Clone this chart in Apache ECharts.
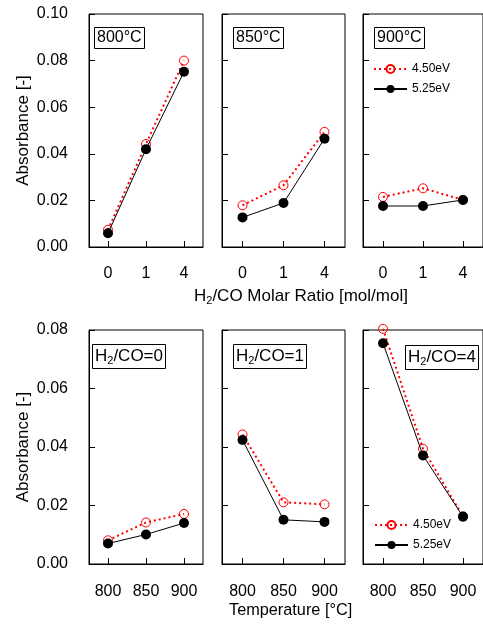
<!DOCTYPE html>
<html>
<head>
<meta charset="utf-8">
<script src="https://cdn.jsdelivr.net/npm/echarts@6/dist/echarts.min.js"></script>
<style>
  html, body { margin: 0; padding: 0; background: #fff; }
  #chart { width: 483px; height: 624px; }
</style>
</head>
<body>
<div id="chart"></div>
<script>
// x categories
const ratioCats = ['0', '1', '4'];
const tempCats = ['800', '850', '900'];
const seriesNames = ['4.50eV', '5.25eV'];
const topLabels = ['800°C', '850°C', '900°C'];
const bottomRatios = ['0', '1', '4'];

// top row: absorbance vs H2/CO ratio, one panel per temperature
const t800_450 = [0.0074, 0.0442, 0.0800];
const t800_525 = [0.0059, 0.0420, 0.0752];
const t850_450 = [0.0179, 0.0265, 0.0494];
const t850_525 = [0.0127, 0.0189, 0.0465];
const t900_450 = [0.0215, 0.0252, 0.0202];
const t900_525 = [0.0176, 0.0176, 0.0202];

// bottom row: absorbance vs temperature, one panel per H2/CO ratio
const r0_450 = [0.0081, 0.0142, 0.0171];
const r0_525 = [0.0070, 0.0101, 0.0140];
const r1_450 = [0.0443, 0.0211, 0.0204];
const r1_525 = [0.0424, 0.0151, 0.0144];
const r4_450 = [0.0804, 0.0394, 0.0162];
const r4_525 = [0.0755, 0.0371, 0.0162];

const topMax = 0.10;
const bottomMax = 0.08;
const yStep = 0.02;

const font = '"Liberation Sans", Arial, sans-serif';
const chart = echarts.init(document.getElementById('chart'));

const panels = [
  { left: 89,  top: 14,  width: 114, height: 233, cats: ratioCats, max: topMax, d450: t800_450, d525: t800_525 },
  { left: 222, top: 14,  width: 123, height: 233, cats: ratioCats, max: topMax, d450: t850_450, d525: t850_525 },
  { left: 363, top: 14,  width: 122, height: 233, cats: ratioCats, max: topMax, d450: t900_450, d525: t900_525 },
  { left: 89,  top: 330, width: 114, height: 234, cats: tempCats, max: bottomMax, d450: r0_450, d525: r0_525 },
  { left: 222, top: 330, width: 123, height: 234, cats: tempCats, max: bottomMax, d450: r1_450, d525: r1_525 },
  { left: 363, top: 330, width: 122, height: 234, cats: tempCats, max: bottomMax, d450: r4_450, d525: r4_525 },
];

const axisLine = { show: true, lineStyle: { color: '#000', width: 1 } };
const axisTick = { show: true, inside: true, length: 6, lineStyle: { color: '#000', width: 1 } };

const grid = panels.map(p => ({
  left: p.left, top: p.top, width: p.width, height: p.height,
  show: true, borderColor: '#000', borderWidth: 1, backgroundColor: 'transparent',
}));

const xAxis = panels.map((p, i) => ({
  type: 'category', gridIndex: i, data: p.cats, boundaryGap: true,
  axisLine, axisTick: { ...axisTick, alignWithLabel: true },
  axisLabel: { fontSize: 16, color: '#000', fontFamily: font, margin: i < 3 ? 19 : 20 },
}));

const yAxis = panels.map((p, i) => ({
  type: 'value', gridIndex: i, min: 0, max: p.max, interval: yStep,
  axisLine, axisTick,
  splitLine: { show: false },
  axisLabel: {
    show: i % 3 === 0, fontSize: 16, color: '#000', fontFamily: font, margin: 21,
    formatter: v => v.toFixed(2),
  },
  name: i % 3 === 0 ? 'Absorbance [-]' : '',
  nameLocation: 'middle', nameRotate: 90, nameGap: 57,
  nameTextStyle: { fontSize: 17, color: '#000', fontFamily: font },
}));

const series = [];
panels.forEach((p, i) => {
  series.push({
    type: 'line', name: seriesNames[0], xAxisIndex: i, yAxisIndex: i, data: p.d450,
    symbol: 'circle', symbolSize: 9, z: 2, clip: false,
    itemStyle: { color: 'rgba(255,255,255,0)', borderColor: '#ff0000', borderWidth: 1 },
    lineStyle: { color: '#ff0000', width: 2, type: [2, 3] },
  });
  series.push({
    type: 'line', name: seriesNames[1], xAxisIndex: i, yAxisIndex: i, data: p.d525,
    symbol: 'circle', symbolSize: 10, z: 3, clip: false,
    itemStyle: { color: '#000' },
    lineStyle: { color: '#000', width: 1 },
  });
});

const legendBase = {
  data: seriesNames, orient: 'vertical', selectedMode: false,
  itemWidth: 33, itemHeight: 10, itemGap: 8,
  textStyle: { fontSize: 12, color: '#000', fontFamily: font },
};
const legend = [
  { ...legendBase, left: 368, top: 58 },
  { ...legendBase, left: 369, top: 514 },
];

const rich = {
  a: { fontSize: 17, lineHeight: 20, color: '#000', fontFamily: font, fontWeight: 'normal' },
  s: { fontSize: 11, lineHeight: 8, color: '#000', fontFamily: font, fontWeight: 'normal', verticalAlign: 'bottom' },
  b: { fontSize: 16, lineHeight: 16, color: '#000', fontFamily: font, fontWeight: 'normal' },
};
const boxStyle = { borderColor: '#000', borderWidth: 1 };
const titleText = { fontWeight: 'normal', rich };

const title = [
  { text: '{b|' + topLabels[0] + '}', left: 94, top: 27, padding: [3, 3], ...boxStyle, textStyle: titleText },
  { text: '{b|' + topLabels[1] + '}', left: 233, top: 27, padding: [3, 3], ...boxStyle, textStyle: titleText },
  { text: '{b|' + topLabels[2] + '}', left: 374, top: 27, padding: [3, 3], ...boxStyle, textStyle: titleText },
  { text: '{a|H}{s|2}{a|/CO=' + bottomRatios[0] + '}', left: 92, top: 343, padding: [3, 3], ...boxStyle, textStyle: titleText },
  { text: '{a|H}{s|2}{a|/CO=' + bottomRatios[1] + '}', left: 233, top: 343, padding: [3, 3], ...boxStyle, textStyle: titleText },
  { text: '{a|H}{s|2}{a|/CO=' + bottomRatios[2] + '}', left: 405, top: 344, padding: [3, 3], ...boxStyle, textStyle: titleText },
  // axis titles
  { text: '{a|H}{s|2}{a|/CO Molar Ratio [mol/mol]}', left: 194, top: 286, padding: 0, textStyle: titleText },
  { text: 'Temperature [°C]', left: 229, top: 601, padding: 0,
    textStyle: { fontSize: 16.3, lineHeight: 20, color: '#000', fontFamily: font, fontWeight: 'normal' } },
];

chart.setOption({
  animation: false,
  backgroundColor: '#fff',
  title, grid, xAxis, yAxis, series, legend,
});
</script>
</body>
</html>
